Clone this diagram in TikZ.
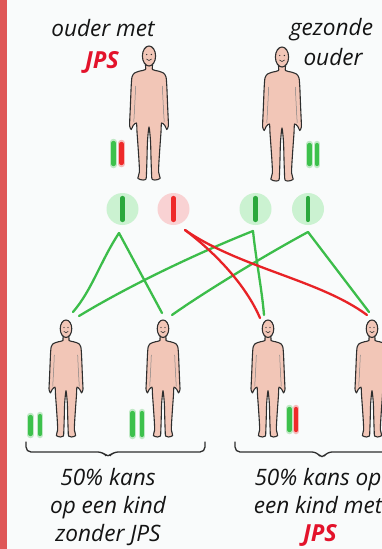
\documentclass[tikz,border=0pt]{standalone}
\usepackage{fontspec}
\setmainfont{Open Sans}
\definecolor{bgcol}{HTML}{F9FBFB}
\definecolor{barred}{HTML}{DF5757}
\definecolor{jpsred}{HTML}{E3132B}
\definecolor{gline}{HTML}{3CBD4A}
\definecolor{rline}{HTML}{E82226}
\definecolor{gfill}{HTML}{CBF2D1}
\definecolor{rfill}{HTML}{F9D2D3}
\definecolor{gdark}{HTML}{2AA83C}
\definecolor{chg}{HTML}{3DC14C}
\definecolor{chr}{HTML}{EE2A2A}
\definecolor{skin}{HTML}{F2C6B7}
\definecolor{ink}{HTML}{2E2E2E}
% one chromosome: colour, x, top y, bottom y
\newcommand\drawchromo[4]{%
  \draw[#1,line width=6.5pt,line cap=round,opacity=.3] (#2,#3) -- (#2,#4);
  \draw[#1,line width=4.3pt,line cap=round] (#2,#3+1) -- (#2,#4-1);}
\tikzset{
  pics/person/.style={code={
    \draw[ink,line width=1.1pt,fill=skin,line join=round]
      plot[smooth cycle,tension=0.45] coordinates {
        (-3.2,18) (-3.5,23.5) (-9,25) (-14.5,27) (-17,31) (-17.8,40)
        (-18.3,52) (-18.8,64) (-19.3,75) (-19.4,80) (-17.8,83.5) (-15.8,79.5)
        (-12.6,77) (-12,86) (-11,100) (-10,115) (-9.6,126) (-11,132.5)
        (-6,134) (-3,133) (-2.5,127) (-2,112) (-1.5,95) (0,81)
        (1.5,95) (2,112) (2.5,127) (3,133) (6,134) (11,132.5)
        (9.6,126) (10,115) (11,100) (12,86) (12.6,77) (15.8,79.5)
        (17.8,83.5) (19.4,80) (19.3,75) (18.8,64) (18.3,52) (17.8,40)
        (17,31) (14.5,27) (9,25) (3.5,23.5) (3.2,18)};
    \draw[ink!60,line width=0.5pt] (-13.4,40) .. controls (-14,55) .. (-15.2,76);
    \draw[ink!60,line width=0.5pt] (13.4,40) .. controls (14,55) .. (15.2,76);
    \draw[ink,line width=1.1pt,fill=skin] (0,10) ellipse [x radius=6.6, y radius=10];
    \fill[ink] (-2.3,8.5) circle (0.7) (2.3,8.5) circle (0.7);
    \draw[ink,line width=0.6pt] (-2.6,13) .. controls (-1,15) and (1,15) .. (2.6,13);
  }},
  lbl/.style={font=\fontsize{22.6}{26}\selectfont\itshape,anchor=base,inner sep=0pt,text=black!92},
  jps/.style={font=\fontsize{23.5}{26}\selectfont\bfseries\itshape,anchor=base,inner sep=0pt,text=jpsred},
  gam/.style={circle,minimum size=32pt,inner sep=0pt},
  gl/.style={gline,line width=2.3pt,line cap=round,line join=round},
  rl/.style={rline,line width=2.3pt,line cap=round,line join=round},
  brace/.style={ink,line width=1.3pt,rounded corners=5pt,line cap=round}
}
\begin{document}
\begin{tikzpicture}[x=1pt,y=-1pt]
\useasboundingbox (0,0) rectangle (382,549);
\clip (0,0) rectangle (382,549);
\fill[bgcol] (0,0) rectangle (382,549);
\fill[barred] (0,0) rectangle (7,549);

% headings
\node[lbl] (t1) at (103,36) {ouder met};
\node[jps] (t2) at (102,68) {JPS};
\node[lbl] (t3) at (331.5,35) {gezonde};
\node[lbl] (t4) at (333,65) {ouder};

% parents
\pic (p1) at (149,46) {person};
\pic (p2) at (282,47) {person};
\drawchromo{chg}{113.5}{142}{165}
\drawchromo{chr}{121.5}{143}{164}
\drawchromo{chg}{309.5}{144}{165}
\drawchromo{chg}{317}{144}{165}

% gametes
\node[gam,fill=gfill] (g1) at (122.5,209) {};
\node[gam,fill=rfill] (g2) at (173.5,209) {};
\node[gam,fill=gfill] (g3) at (255.5,209) {};
\node[gam,fill=gfill] (g4) at (308,209) {};
\draw[gdark,line width=4.2pt,line cap=round] ([yshift=11pt]g1.center) -- ([yshift=-11pt]g1.center);
\draw[chr,line width=4.2pt,line cap=round] ([yshift=11pt]g2.center) -- ([yshift=-11pt]g2.center);
\draw[gdark,line width=4.2pt,line cap=round] ([yshift=11pt]g3.center) -- ([yshift=-11pt]g3.center);
\draw[gdark,line width=4.2pt,line cap=round] ([yshift=11pt]g4.center) -- ([yshift=-11pt]g4.center);

% connector ends
\coordinate (a1) at (119,233);
\coordinate (a2) at (185,230);
\coordinate (a3) at (253,231);
\coordinate (a4) at (308,232);
\coordinate (c1l) at (73,312);
\coordinate (c1r) at (79,316);
\coordinate (c2l) at (162,313);
\coordinate (c2r) at (172,315);
\coordinate (c3l) at (260,318);
\coordinate (c3r) at (264,315);
\coordinate (c4l) at (367,315);
\coordinate (c4r) at (369,312);

% inheritance lines
\draw[gl] (a1) .. controls (100,262) and (92,290) .. (c1l);
\draw[gl] (a1) -- (c2l);
\draw[gl] (a3) .. controls (200,252) and (130,285) .. (c1r);
\draw[gl] (a3) .. controls (256,260) and (262,290) .. (c3r);
\draw[gl] (a4) .. controls (260,258) and (200,295) .. (c2r);
\draw[gl] (a4) -- (c4r);
\draw[rl] (a2) .. controls (222,258) and (248,290) .. (c3l);
\draw[rl] (a2) .. controls (240,268) and (320,280) .. (c4l);

% children
\pic[scale=0.873] (k1) at (66,320) {person};
\pic[scale=0.873] (k2) at (163,320) {person};
\pic[scale=0.873] (k3) at (268,320) {person};
\pic[scale=0.873] (k4) at (372,320) {person};
\drawchromo{chg}{30.5}{416}{435}
\drawchromo{chg}{40}{415}{435}
\drawchromo{chg}{132.5}{412}{436}
\drawchromo{chg}{142}{412}{436}
\drawchromo{chg}{289.5}{408}{431}
\drawchromo{chr}{296}{408}{431}

% braces
\draw[brace] (26,442) -- (26,452) -- (103,452) -- (108,458) -- (113,452) -- (205,452) -- (205,442);
\draw[brace] (235,442) -- (235,452) -- (317,452) -- (322,459) -- (327,452) -- (410,452);

% captions
\node[lbl] (b1) at (108,485) {50\% kans};
\node[lbl] (b2) at (108,513) {op een kind};
\node[lbl] (b3) at (108,541) {zonder JPS};
\node[lbl] (b4) at (318,485) {50\% kans op};
\node[lbl] (b5) at (318,513) {een kind met};
\node[jps] (b6) at (320,541) {JPS};
\end{tikzpicture}
\end{document}
